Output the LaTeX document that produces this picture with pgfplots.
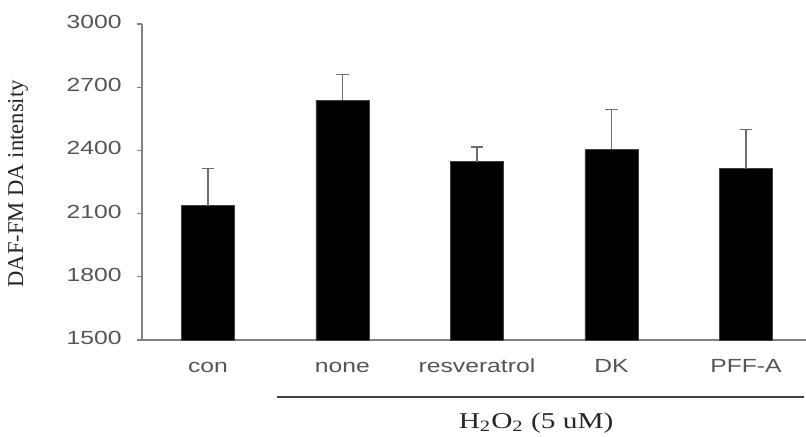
\documentclass[border=0pt]{standalone}
\usepackage{fontspec}
\setmainfont{Liberation Serif}
\newfontfamily\ticksans[FakeStretch=1.3]{Liberation Sans}
\newfontfamily\labserif[FakeStretch=1.3]{Liberation Serif}
\usepackage{pgfplots}
\pgfplotsset{compat=1.18}
\definecolor{axisgray}{RGB}{130,130,130}
\definecolor{tickgray}{RGB}{85,85,85}
\definecolor{errgray}{RGB}{110,110,110}
\begin{document}
\begin{tikzpicture}
\useasboundingbox (0,0) rectangle (403pt,218pt);
\begin{axis}[
  at={(71pt,48pt)}, anchor=south west,
  scale only axis, width=332pt, height=158pt,
  xmin=-0.49, xmax=4.446, ymin=1500, ymax=3000,
  ytick={1500,1800,2100,2400,2700,3000},
  xtick={0,1,2,3,4},
  xticklabels={con,none,resveratrol,DK,PFF-A},
  minor xtick={0.5,1.5,2.5,3.5},
  axis x line*=bottom, axis y line*=left,
  axis line style={axisgray, line width=0.8pt},
  x tick style={draw=none},
  minor x tick style={axisgray, line width=0.6pt},
  minor tick length=2.5pt,
  y tick style={axisgray, line width=0.6pt},
  ytick align=outside, xtick align=inside,
  major tick length=2.5pt,
  /pgf/number format/assume math mode=true,
  /pgf/number format/1000 sep={},
  tick label style={font=\ticksans\fontsize{9.5}{11}\selectfont, text=tickgray, inner sep=0pt},
  yticklabel style={anchor=east, xshift=-7.5pt},
  xticklabel style={anchor=base, yshift=-13.5pt},
  typeset ticklabels with strut=false,
  ylabel={DAF-FM DA intensity},
  every axis y label/.style={at={(axis description cs:-0.179,0.494)}, rotate=90, anchor=base, font=\fontsize{11.3}{13}\selectfont, text=black!85},
  ybar, bar width=26.5pt,
]
\addplot[fill=black, draw=black!75, line width=0.4pt,
  error bars/.cd, y dir=plus, y explicit,
  error bar style={errgray, line width=0.8pt},
  error mark options={errgray, line width=0.8pt, mark size=3.2pt, rotate=90}]
  coordinates {
  (0,2137) +- (0,178)
  (1,2639) +- (0,122)
  (2,2346) +- (0,69)
  (3,2405) +- (0,190)
  (4,2313) +- (0,187)
  };
\coordinate (la) at (axis cs:0.513,1229);
\coordinate (lb) at (axis cs:4.43,1229);
\coordinate (lc) at (axis cs:2.44,1500);
\end{axis}
\draw[black!75, line width=1.2pt] (la) -- (lb);
\node[anchor=base, inner sep=0pt, text=black!85, font=\labserif\fontsize{11.3}{13}\selectfont] at ([yshift=-44pt]lc) {H\textsubscript{2}O\textsubscript{2} (5 uM)};
\end{tikzpicture}
\end{document}
